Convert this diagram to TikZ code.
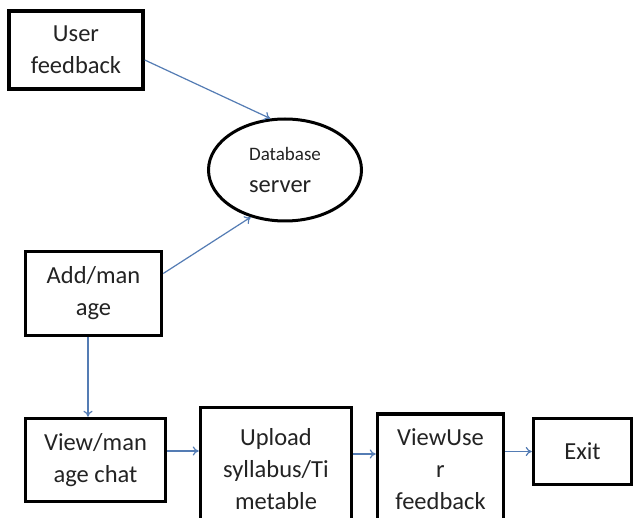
\documentclass[tikz,border=0pt]{standalone}
\usepackage{fontspec}
\setmainfont{Carlito}
\usetikzlibrary{shapes.geometric,arrows.meta}
\definecolor{arrblue}{RGB}{84,124,180}
\definecolor{txt}{RGB}{35,35,35}
\tikzset{
  box/.style={draw=black, line width=3.5pt, rectangle, inner sep=0pt, align=center,
    text=txt, font=\fontsize{24.5}{32}\selectfont},
  oval/.style={draw=black, line width=3pt, ellipse, inner sep=0pt, align=left,
    text=txt, font=\fontsize{24.5}{32}\selectfont},
  arr/.style={draw=arrblue, line width=1.2pt, -{To[length=6pt,width=9pt]}}
}
\begin{document}
\begin{tikzpicture}[x=1pt,y=-1pt]
\useasboundingbox (0,0) rectangle (634,518);
\clip (0,0) rectangle (634,518);
\fill[white] (0,0) rectangle (634,518);
\node[box, minimum width=134pt, minimum height=78pt] (uf) at (76,50) {User\\feedback};
\node[oval, minimum width=153pt, minimum height=102pt] (db) at (285,170)
  {{\fontsize{19}{24}\selectfont Database}\\server};
\node[box, minimum width=136pt, minimum height=84pt] (am) at (93.5,293.5) {Add/man\\age};
\node[box, minimum width=140pt, minimum height=83pt] (vc) at (95.5,460) {View/man\\age chat};
\node[box, minimum width=151pt, minimum height=123pt] (up) at (276,469) {Upload\\syllabus/Ti\\metable};
\node[box, minimum width=126pt, minimum height=110pt] (vu) at (440.5,469) {ViewUse\\r\\feedback};
\node[box, minimum width=98pt, minimum height=66pt] (ex) at (582.5,451.5) {Exit};
\draw[arr] ([yshift=-10pt]uf.east) -- (db.106);
\draw[arr] ([yshift=20pt]am.east) -- (db.234);
\draw[arr] ([xshift=-5.5pt]am.south) -- ([xshift=-5.5pt]am.south |- vc.north);
\draw[arr] ([yshift=9pt]vc.east) -- ([yshift=9pt]vc.east -| up.west);
\draw[arr] ([yshift=15pt]up.east) -- ([yshift=15pt]up.east -| vu.west);
\draw[arr] (vu.east |- ex.west) -- (ex.west);
\end{tikzpicture}
\end{document}
